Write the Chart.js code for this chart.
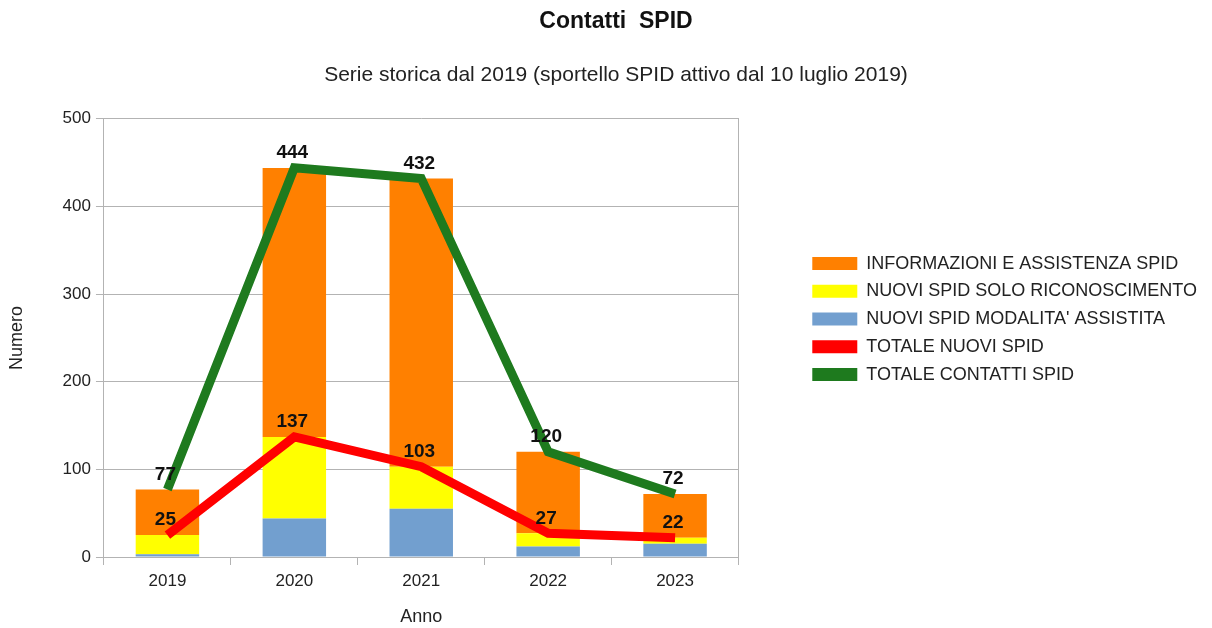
<!DOCTYPE html>
<html lang="it">
<head>
  <meta charset="UTF-8" />
  <title>Contatti SPID</title>
  <script src="https://cdn.jsdelivr.net/npm/chart.js"></script>
  <style>
    body { margin: 0; background: #fff; }
    .wrap { width: 1212px; height: 628px; }
  </style>
</head>
<body>
  <div class="wrap"><canvas id="chart"></canvas></div>
  <script>
    const anni = ['2019', '2020', '2021', '2022', '2023'];
    const informazioni = [52, 307, 329, 93, 50];
    const soloRiconoscimento = [22, 93, 48, 15, 7];
    const modalitaAssistita = [3, 44, 55, 12, 15];
    const totaleNuovi = [25, 137, 103, 27, 22];
    const totaleContatti = [77, 444, 432, 120, 72];

    // legend order as in the original (top to bottom)
    const legendRank = [2, 1, 0, 3, 4];

    const FONT = "'Liberation Sans', Arial, sans-serif";
    const TXT = '#222';

    // value labels above the two lines
    const lineLabels = {
      id: 'lineLabels',
      afterDatasetsDraw(chart) {
        const ctx = chart.ctx;
        ctx.save();
        ctx.font = 'bold 19px ' + FONT;
        ctx.fillStyle = '#111';
        ctx.textAlign = 'center';
        ctx.textBaseline = 'middle';
        chart.data.datasets.forEach((ds, i) => {
          if (ds.type !== 'line') return;
          chart.getDatasetMeta(i).data.forEach((pt, j) => {
            ctx.fillText(ds.data[j], pt.x - 2, pt.y - 15);
          });
        });
        ctx.restore();
      }
    };

    // in the original the titles are centred a little right of the canvas middle
    const shiftTitles = {
      id: 'shiftTitles',
      afterLayout(chart) {
        chart.boxes.forEach(b => {
          if (b.options && b.options.position === 'top' && 'text' in b.options) b.left += 19;
        });
      }
    };

    new Chart(document.getElementById('chart'), {
      data: {
        labels: anni,
        datasets: [
          { type: 'bar', label: "NUOVI SPID MODALITA' ASSISTITA", data: modalitaAssistita, backgroundColor: '#729fcf', stack: 'barre', order: 2 },
          { type: 'bar', label: 'NUOVI SPID SOLO RICONOSCIMENTO', data: soloRiconoscimento, backgroundColor: '#ffff00', stack: 'barre', order: 2 },
          { type: 'bar', label: 'INFORMAZIONI E ASSISTENZA SPID', data: informazioni, backgroundColor: '#ff8000', stack: 'barre', order: 2 },
          { type: 'line', label: 'TOTALE NUOVI SPID', data: totaleNuovi, borderColor: '#ff0000', backgroundColor: '#ff0000', borderWidth: 9, pointRadius: 0, stack: 'nuovi', order: 1 },
          { type: 'line', label: 'TOTALE CONTATTI SPID', data: totaleContatti, borderColor: '#1e7a1e', backgroundColor: '#1e7a1e', borderWidth: 9, pointRadius: 0, stack: 'contatti', order: 0 }
        ]
      },
      options: {
        responsive: true,
        maintainAspectRatio: false,
        animation: false,
        layout: { padding: { left: 6, right: 5, bottom: 0 } },
        datasets: { bar: { barPercentage: 0.5, categoryPercentage: 1 } },
        scales: {
          x: {
            stacked: true,
            grid: { drawOnChartArea: false, offset: true, color: '#b3b3b3', tickLength: 8 },
            border: { color: '#b3b3b3' },
            ticks: { color: TXT, font: { family: FONT, size: 17 }, padding: 6 },
            title: { display: true, text: 'Anno', color: TXT, font: { family: FONT, size: 18 }, padding: { top: 9, bottom: 0 } }
          },
          y: {
            stacked: true,
            min: 0, max: 500,
            ticks: { stepSize: 100, color: TXT, font: { family: FONT, size: 17 }, padding: 5 },
            grid: { color: '#b3b3b3', tickLength: 8 },
            border: { color: '#b3b3b3' },
            title: { display: true, text: 'Numero', color: TXT, font: { family: FONT, size: 18 }, padding: { top: 0, bottom: 30 } }
          },
          y2: {
            position: 'right',
            min: 0, max: 500,
            grid: { display: false },
            ticks: { display: false },
            border: { color: '#b3b3b3' },
            afterFit(s) { s.width = 64; }
          }
        },
        plugins: {
          title: {
            display: true,
            text: 'Contatti  SPID',
            color: '#111',
            font: { family: FONT, size: 23, weight: 'bold' },
            padding: { top: 8, bottom: 27 }
          },
          subtitle: {
            display: true,
            text: 'Serie storica dal 2019 (sportello SPID attivo dal 10 luglio 2019)',
            color: TXT,
            font: { family: FONT, size: 21 },
            padding: { top: 0, bottom: 31 }
          },
          legend: {
            position: 'right',
            align: 'start',
            maxWidth: 460,
            title: { display: true, text: ' ', font: { size: 4 }, padding: { top: 240, bottom: 0 } },
            labels: {
              color: TXT,
              font: { family: FONT, size: 18 },
              boxWidth: 45,
              boxHeight: 13,
              padding: 9.75,
              sort: (a, b) => legendRank[a.datasetIndex] - legendRank[b.datasetIndex],
              generateLabels(chart) {
                return chart.data.datasets.map((ds, i) => ({
                  text: ds.label,
                  fillStyle: ds.backgroundColor,
                  strokeStyle: ds.backgroundColor,
                  lineWidth: 0,
                  fontColor: TXT,
                  datasetIndex: i
                }));
              }
            }
          },
          tooltip: { enabled: false }
        }
      },
      plugins: [lineLabels, shiftTitles]
    });
  </script>
</body>
</html>
